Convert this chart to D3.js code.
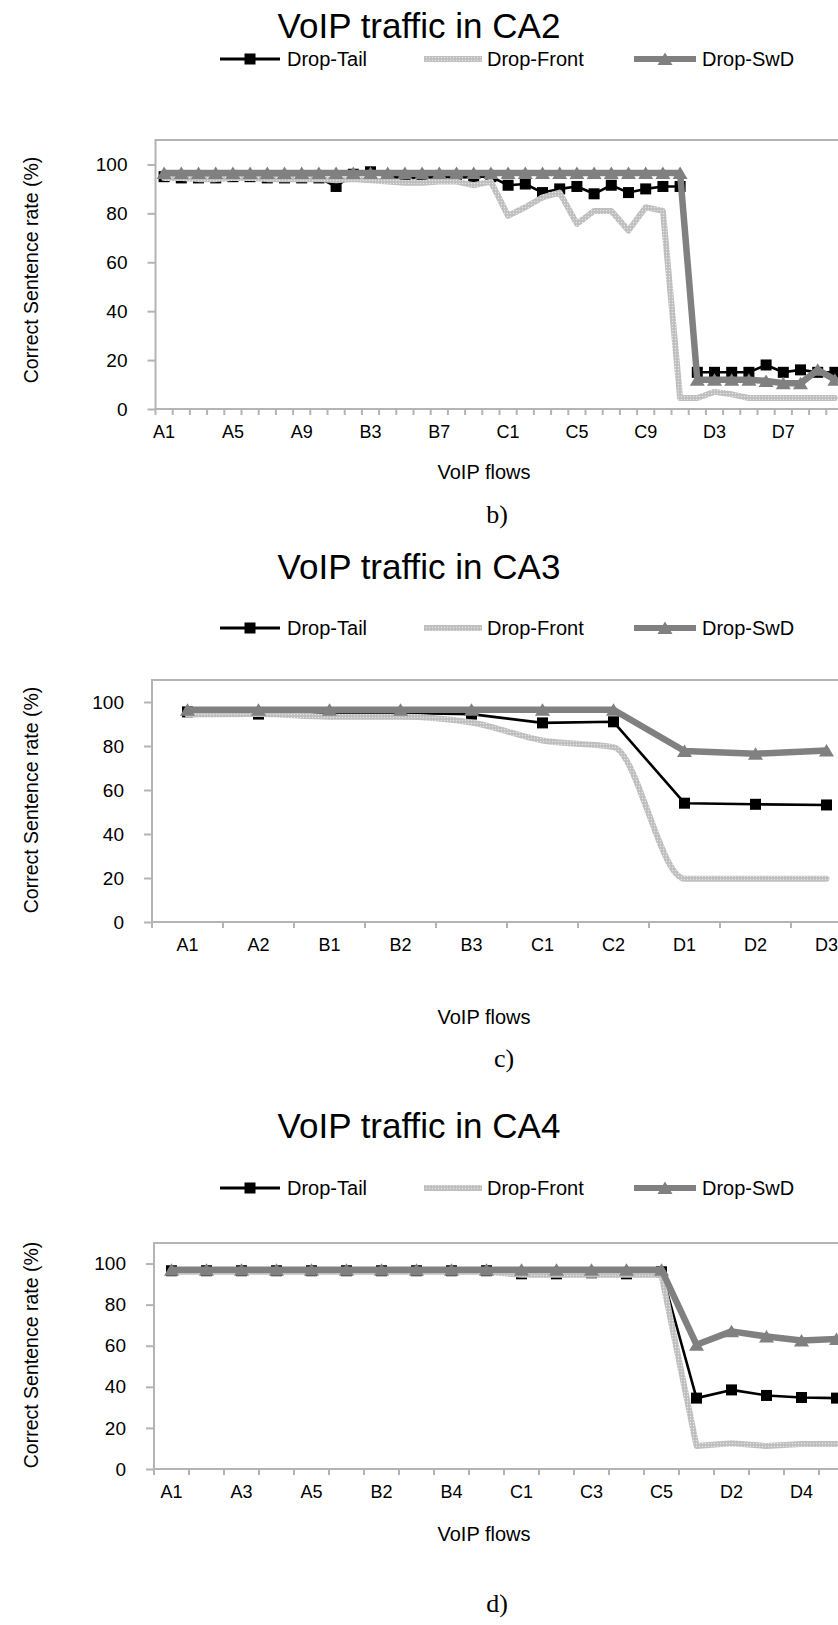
<!DOCTYPE html>
<html>
<head>
<meta charset="utf-8">
<script src="https://cdn.jsdelivr.net/npm/d3@7"></script>
<style>
    body { margin: 0; background: #fff; }
    svg { display: block; }
    text { font-family: "Liberation Sans", Arial, sans-serif; fill: #000; }
</style>
</head>
<body>
<svg id="base" width="838" height="1625"></svg>
<script>
// ---- data ----

const seriesNames = ["Drop-Tail", "Drop-Front", "Drop-SwD"];
const yTicks = [0, 20, 40, 60, 80, 100];

// CA2
const catsCA2 = [
    "A1", "A2", "A3", "A4", "A5", "A6", "A7", "A8", "A9", "A10",
    "B1", "B2", "B3", "B4", "B5", "B6", "B7", "B8", "B9", "B10",
    "C1", "C2", "C3", "C4", "C5", "C6", "C7", "C8", "C9", "C10",
    "D1", "D2", "D3", "D4", "D5", "D6", "D7", "D8", "D9", "D10",
];
const tailCA2 = [
    95, 94.5, 94.5, 94.5, 95, 95, 94.5, 94.5, 94.5, 94.5,
    91, 96, 97, 95, 94.5, 94.5, 95, 94.5, 95, 95,
    91.5, 92, 88.5, 90, 91, 88, 91.5, 88.5, 90, 91,
    91, 15, 15, 15, 15, 18, 15, 16, 15, 15,
];
const frontCA2 = [
    94.5, 94.5, 94, 94, 94.5, 94.5, 94, 94, 94, 94,
    93.5, 94, 93.5, 93, 92.5, 92.5, 93, 93, 91.5, 93,
    79, 82.5, 86.5, 88.5, 75.7, 81, 81, 73, 82.5, 81,
    4.5, 4.5, 7, 6, 4.5, 4.5, 4.5, 4.5, 4.5, 4.5,
];
const swdCA2 = [
    96.5, 96.5, 96.5, 96.5, 96.5, 96.5, 96.5, 96.5, 96.5, 96.5,
    96.5, 96.5, 96.5, 96.5, 96.5, 96.5, 96.5, 96.5, 96.5, 96.5,
    96.5, 96.5, 96.5, 96.5, 96.5, 96.5, 96.5, 96.5, 96.5, 96.5,
    96.5, 12, 12, 12, 12, 11.5, 10.5, 10.5, 16, 12,
];

// CA3
const catsCA3 = ["A1", "A2", "B1", "B2", "B3", "C1", "C2", "D1", "D2", "D3"];
const tailCA3 = [95.5, 94.5, 95, 95, 94.5, 90.5, 91, 54, 53.5, 53.2];
const frontCA3 = [94.3, 94.6, 93.3, 93.3, 90.7, 82.5, 79.5, 19.7, 19.7, 19.7];
const swdCA3 = [96.5, 96.5, 96.5, 96.5, 96.5, 96.5, 96.5, 77.7, 76.5, 78];

// CA4
const catsCA4 = [
    "A1", "A2", "A3", "A4", "A5", "B1", "B2", "B3", "B4", "B5",
    "C1", "C2", "C3", "C4", "C5", "D1", "D2", "D3", "D4", "D5",
];
const tailCA4 = [
    96.5, 96.5, 96.5, 96.5, 96.5, 96.5, 96.5, 96.5, 96.5, 96.5,
    95, 95, 95.5, 95, 96, 34.5, 38.5, 35.8, 34.8, 34.5,
];
const frontCA4 = [
    96, 96, 96, 96, 96, 96, 96, 96, 96, 96,
    94.5, 94.5, 94.5, 94.5, 94.5, 11.2, 12.5, 11.2, 12.2, 12.2,
];
const swdCA4 = [
    97, 97, 97, 97, 97, 97, 97, 97, 97, 97,
    97, 97, 97, 97, 97, 60.5, 67, 64.5, 62.5, 63.3,
];

// ---- layout ----

const panels = [
    { title: "VoIP traffic in CA2", letter: "b)", cats: catsCA2, vals: [tailCA2, frontCA2, swdCA2], every: 4,
      left: 155.5, width: 688, top: 140, bottom: 409, titleY: 26, legendY: 59, labelY: 432, flowsY: 472, letterY: 514, letterX: 497, yTitleY: 270 },
    { title: "VoIP traffic in CA3", letter: "c)", cats: catsCA3, vals: [tailCA3, frontCA3, swdCA3], every: 1, smoothFront: true,
      left: 152, width: 710, top: 680, bottom: 922, titleY: 567, legendY: 628, labelY: 945, flowsY: 1017, letterY: 1058, letterX: 504, yTitleY: 800 },
    { title: "VoIP traffic in CA4", letter: "d)", cats: catsCA4, vals: [tailCA4, frontCA4, swdCA4], every: 2,
      left: 154, width: 700, top: 1243, bottom: 1469, titleY: 1126, legendY: 1188, labelY: 1492, flowsY: 1534, letterY: 1603, letterX: 497, yTitleY: 1355 },
];

const legendPos = [
    { x1: 220, x2: 280, tx: 287 },
    { x1: 424, x2: 482, tx: 487 },
    { x1: 634, x2: 696, tx: 702 },
];

const axisColor = "#b4b4b4";

let base = d3.select("#base");

// textured light grey for Drop-Front
const pat = base.append("defs").append("pattern")
    .attr("id", "tex")
    .attr("width", 3)
    .attr("height", 3)
    .attr("patternUnits", "userSpaceOnUse");
pat.append("rect").attr("width", 3).attr("height", 3).attr("fill", "#c4c4c4");
pat.append("rect").attr("width", 1).attr("height", 1).attr("fill", "#e4e4e4");
pat.append("rect").attr("x", 1.5).attr("y", 1.5).attr("width", 1).attr("height", 1).attr("fill", "#acacac");

const styles = [
    { stroke: "#000", width: 2.6, marker: "square", fill: "#000" },
    { stroke: "url(#tex)", width: 6, marker: null },
    { stroke: "#808080", width: 6.5, marker: "triangle", fill: "#808080" },
];

function drawMarker(sel, type, fill) {
    if (type === "square") {
        sel.append("rect")
            .attr("x", -5.5).attr("y", -5.5)
            .attr("width", 11).attr("height", 11)
            .attr("fill", fill);
    } else if (type === "triangle") {
        sel.append("path")
            .attr("d", "M0,-6.5L7.5,6L-7.5,6Z")
            .attr("fill", fill);
    }
}

panels.forEach((p) => {
    const g = base.append("g");

    const x = d3.scaleBand().domain(p.cats).range([p.left, p.left + p.width]);
    const y = d3.scaleLinear().domain([0, 110]).range([p.bottom, p.top]);
    const bw = x.bandwidth();

    // title
    g.append("text")
        .attr("x", 419)
        .attr("y", p.titleY)
        .attr("dy", "0.35em")
        .attr("text-anchor", "middle")
        .style("font-size", "35px")
        .text(p.title);

    // legend
    seriesNames.forEach((name, i) => {
        const lp = legendPos[i];
        const st = styles[i];
        const lg = g.append("g");
        lg.append("line")
            .attr("x1", lp.x1).attr("x2", lp.x2)
            .attr("y1", p.legendY).attr("y2", p.legendY)
            .attr("stroke", st.stroke)
            .attr("stroke-width", i === 0 ? 3 : 6);
        if (st.marker) {
            drawMarker(lg.append("g").attr("transform", `translate(${(lp.x1 + lp.x2) / 2},${p.legendY})`), st.marker, st.fill);
        }
        lg.append("text")
            .attr("x", lp.tx)
            .attr("y", p.legendY)
            .attr("dy", "0.35em")
            .style("font-size", "20px")
            .text(name);
    });

    // plot frame
    g.append("rect")
        .attr("x", p.left)
        .attr("y", p.top)
        .attr("width", p.width)
        .attr("height", p.bottom - p.top)
        .attr("fill", "none")
        .attr("stroke", axisColor)
        .attr("stroke-width", 2);

    // y axis
    const yAxis = g.append("g")
        .attr("transform", `translate(${p.left},0)`)
        .call(d3.axisLeft(y).tickValues(yTicks).tickSize(8).tickPadding(20));
    yAxis.select(".domain").remove();
    yAxis.selectAll("line").attr("stroke", axisColor).attr("stroke-width", 2);
    yAxis.selectAll("text")
        .style("font-size", "19px")
        .style("font-family", "Liberation Sans, Arial, sans-serif")
        .attr("fill", "#000");

    // x axis: labels at band centres, ticks at band edges
    const xAxis = g.append("g")
        .attr("transform", `translate(0,${p.bottom})`)
        .call(d3.axisBottom(x).tickSize(0).tickPadding(0)
            .tickFormat((d, i) => (i % p.every === 0 ? d : "")));
    xAxis.select(".domain").remove();
    xAxis.selectAll("text")
        .attr("y", p.labelY - p.bottom)
        .attr("dy", "0.35em")
        .style("font-size", "18px")
        .style("font-family", "Liberation Sans, Arial, sans-serif")
        .attr("fill", "#000");

    const edges = p.cats.map((c) => x(c)).concat([x(p.cats[p.cats.length - 1]) + bw]);
    g.append("g")
        .selectAll("line")
        .data(edges)
        .enter()
        .append("line")
        .attr("x1", (d) => d).attr("x2", (d) => d)
        .attr("y1", p.bottom).attr("y2", p.bottom + 6)
        .attr("stroke", axisColor)
        .attr("stroke-width", 2);

    // axis titles
    g.append("text")
        .attr("x", 484)
        .attr("y", p.flowsY)
        .attr("dy", "0.35em")
        .attr("text-anchor", "middle")
        .style("font-size", "20px")
        .text("VoIP flows");

    g.append("text")
        .attr("transform", `translate(31,${p.yTitleY}) rotate(-90)`)
        .attr("dy", "0.35em")
        .attr("text-anchor", "middle")
        .style("font-size", "19.5px")
        .text("Correct Sentence rate (%)");

    g.append("text")
        .attr("x", p.letterX)
        .attr("y", p.letterY)
        .attr("dy", "0.35em")
        .attr("text-anchor", "middle")
        .style("font-family", "Liberation Serif, Times New Roman, serif")
        .style("font-size", "26px")
        .text(p.letter);

    // series
    p.vals.forEach((vals, i) => {
        const st = styles[i];
        const line = d3.line()
            .x((d, j) => x(p.cats[j]) + bw / 2)
            .y((d) => y(d));
        if (i === 1 && p.smoothFront) line.curve(d3.curveMonotoneX);

        g.append("path")
            .datum(vals)
            .attr("d", line)
            .attr("fill", "none")
            .attr("stroke", st.stroke)
            .attr("stroke-width", st.width)
            .attr("stroke-linejoin", "round")
            .attr("stroke-linecap", "round");

        if (st.marker) {
            g.append("g")
                .selectAll("g")
                .data(vals)
                .enter()
                .append("g")
                .attr("transform", (d, j) => `translate(${x(p.cats[j]) + bw / 2},${y(d)})`)
                .each(function () {
                    drawMarker(d3.select(this), st.marker, st.fill);
                });
        }
    });
});
</script>
</body>
</html>
